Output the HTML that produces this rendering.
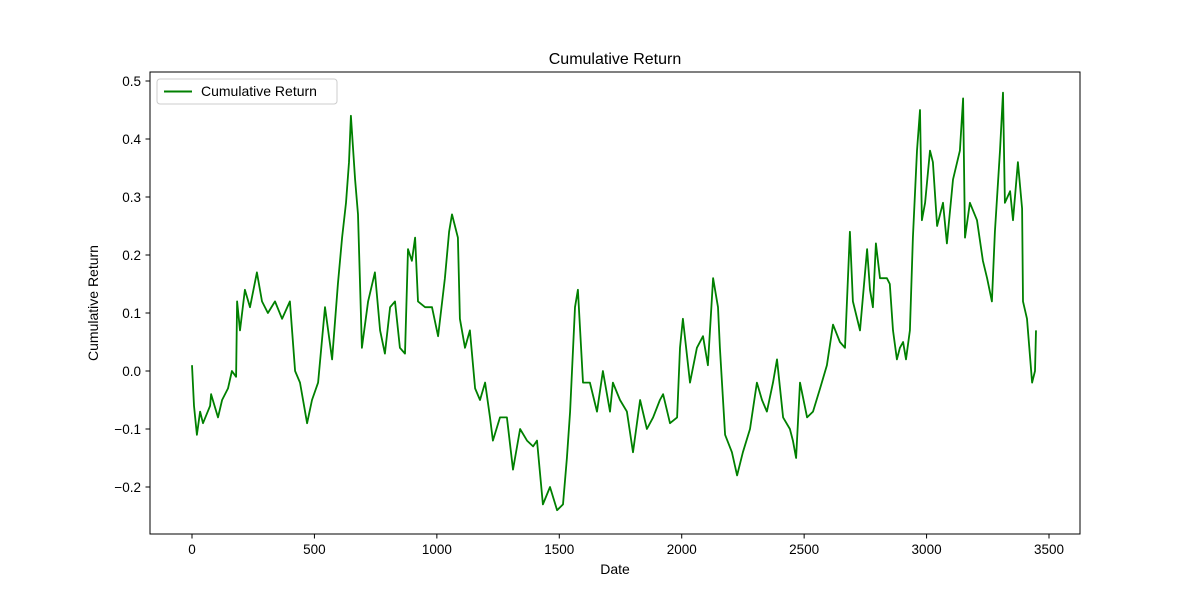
<!DOCTYPE html>
<html><head><meta charset="utf-8"><style>
html,body{margin:0;padding:0;background:#fff;}
svg{display:block;font-family:"Liberation Sans","DejaVu Sans",sans-serif;}
</style></head><body>
<svg id="chart" width="1200" height="600" viewBox="0 0 1200 600" xmlns="http://www.w3.org/2000/svg">
<rect x="0" y="0" width="1200" height="600" fill="#fff"/>
<text x="615" y="64" text-anchor="middle" font-size="16" fill="#000">Cumulative Return</text>
<g id="plot"></g>
<rect x="150" y="72" width="930" height="462" fill="none" stroke="#000" stroke-width="1"/>
<g id="xticks"></g>
<g id="yticks"></g>
<text x="615" y="574" text-anchor="middle" font-size="14" fill="#000">Date</text>
<text transform="translate(98,303) rotate(-90)" text-anchor="middle" font-size="14" fill="#000">Cumulative Return</text>
<g>
<rect x="157" y="79" width="180" height="25" rx="3" fill="#fff" stroke="#ccc" stroke-width="1"/>
<line x1="164" y1="91.5" x2="192" y2="91.5" stroke="#008000" stroke-width="2"/>
<text x="201" y="96" font-size="14" fill="#000">Cumulative Return</text>
</g>
</svg>
<script>
const dates=[0,8,20,33,45,74,78,106,123,147,163,180,184,196,216,237,265,286,310,339,368,400,421,441,470,490,515,543,572,596,613,629,641,649,666,678,694,719,747,768,788,809,829,849,870,882,898,911,923,952,980,1005,1033,1050,1062,1086,1094,1115,1135,1156,1176,1197,1217,1229,1258,1286,1311,1340,1368,1393,1409,1433,1462,1491,1515,1531,1544,1564,1576,1597,1625,1654,1678,1707,1719,1748,1776,1801,1830,1858,1883,1911,1924,1952,1981,1993,2005,2034,2062,2087,2107,2128,2148,2156,2177,2205,2226,2250,2279,2307,2328,2348,2373,2389,2414,2442,2454,2467,2483,2512,2536,2565,2593,2618,2646,2667,2687,2699,2728,2757,2769,2781,2793,2810,2838,2850,2863,2879,2891,2904,2916,2932,2944,2961,2973,2981,2994,3014,3026,3043,3067,3083,3108,3136,3149,3157,3177,3206,3230,3247,3267,3279,3300,3312,3320,3341,3353,3373,3390,3394,3410,3431,3443,3447];
const returns=[0.01,-0.06,-0.11,-0.07,-0.09,-0.06,-0.04,-0.08,-0.05,-0.03,0.00,-0.01,0.12,0.07,0.14,0.11,0.17,0.12,0.10,0.12,0.09,0.12,0.00,-0.02,-0.09,-0.05,-0.02,0.11,0.02,0.15,0.23,0.29,0.36,0.44,0.33,0.27,0.04,0.12,0.17,0.07,0.03,0.11,0.12,0.04,0.03,0.21,0.19,0.23,0.12,0.11,0.11,0.06,0.16,0.24,0.27,0.23,0.09,0.04,0.07,-0.03,-0.05,-0.02,-0.08,-0.12,-0.08,-0.08,-0.17,-0.10,-0.12,-0.13,-0.12,-0.23,-0.20,-0.24,-0.23,-0.15,-0.07,0.11,0.14,-0.02,-0.02,-0.07,0.00,-0.07,-0.02,-0.05,-0.07,-0.14,-0.05,-0.10,-0.08,-0.05,-0.04,-0.09,-0.08,0.04,0.09,-0.02,0.04,0.06,0.01,0.16,0.11,0.04,-0.11,-0.14,-0.18,-0.14,-0.10,-0.02,-0.05,-0.07,-0.02,0.02,-0.08,-0.10,-0.12,-0.15,-0.02,-0.08,-0.07,-0.03,0.01,0.08,0.05,0.04,0.24,0.12,0.07,0.21,0.14,0.11,0.22,0.16,0.16,0.15,0.07,0.02,0.04,0.05,0.02,0.07,0.23,0.38,0.45,0.26,0.29,0.38,0.36,0.25,0.29,0.22,0.33,0.38,0.47,0.23,0.29,0.26,0.19,0.16,0.12,0.24,0.38,0.48,0.29,0.31,0.26,0.36,0.28,0.12,0.09,-0.02,0.00,0.07];
const xTicks=[0,500,1000,1500,2000,2500,3000,3500];
const yTicks=[-0.2,-0.1,0.0,0.1,0.2,0.3,0.4,0.5];
const yTickLabels=["−0.2","−0.1","0.0","0.1","0.2","0.3","0.4","0.5"];
const NS="http://www.w3.org/2000/svg";
function xs(d){return 192+(d/3500)*857;}
function ys(v){return 371-v*580;}
const plot=document.getElementById('plot');
let d='';
for(let i=0;i<dates.length;i++){d+=(i?'L':'M')+xs(dates[i]).toFixed(1)+' '+ys(returns[i]).toFixed(1);}
const path=document.createElementNS(NS,'path');
path.setAttribute('d',d);path.setAttribute('fill','none');path.setAttribute('stroke','#008000');path.setAttribute('stroke-width','1.8');path.setAttribute('stroke-linejoin','round');


plot.appendChild(path);
const xg=document.getElementById('xticks');
xTicks.forEach(t=>{
  const l=document.createElementNS(NS,'line');
  l.setAttribute('x1',xs(t));l.setAttribute('x2',xs(t));l.setAttribute('y1',534);l.setAttribute('y2',538.5);l.setAttribute('stroke','#000');
  
  
  xg.appendChild(l);
  const tx=document.createElementNS(NS,'text');
  tx.setAttribute('x',xs(t));tx.setAttribute('y',554);tx.setAttribute('text-anchor','middle');tx.setAttribute('font-size','13.5');tx.textContent=t;
  
  
  xg.appendChild(tx);
});
const yg=document.getElementById('yticks');
yTicks.forEach((t,i)=>{
  const l=document.createElementNS(NS,'line');
  l.setAttribute('x1',145.5);l.setAttribute('x2',150);l.setAttribute('y1',ys(t));l.setAttribute('y2',ys(t));l.setAttribute('stroke','#000');
  
  
  yg.appendChild(l);
  const tx=document.createElementNS(NS,'text');
  tx.setAttribute('x',141);tx.setAttribute('y',ys(t)+5);tx.setAttribute('text-anchor','end');tx.setAttribute('font-size','13.5');tx.textContent=yTickLabels[i];
  
  
  yg.appendChild(tx);
});
</script>
</body></html>
